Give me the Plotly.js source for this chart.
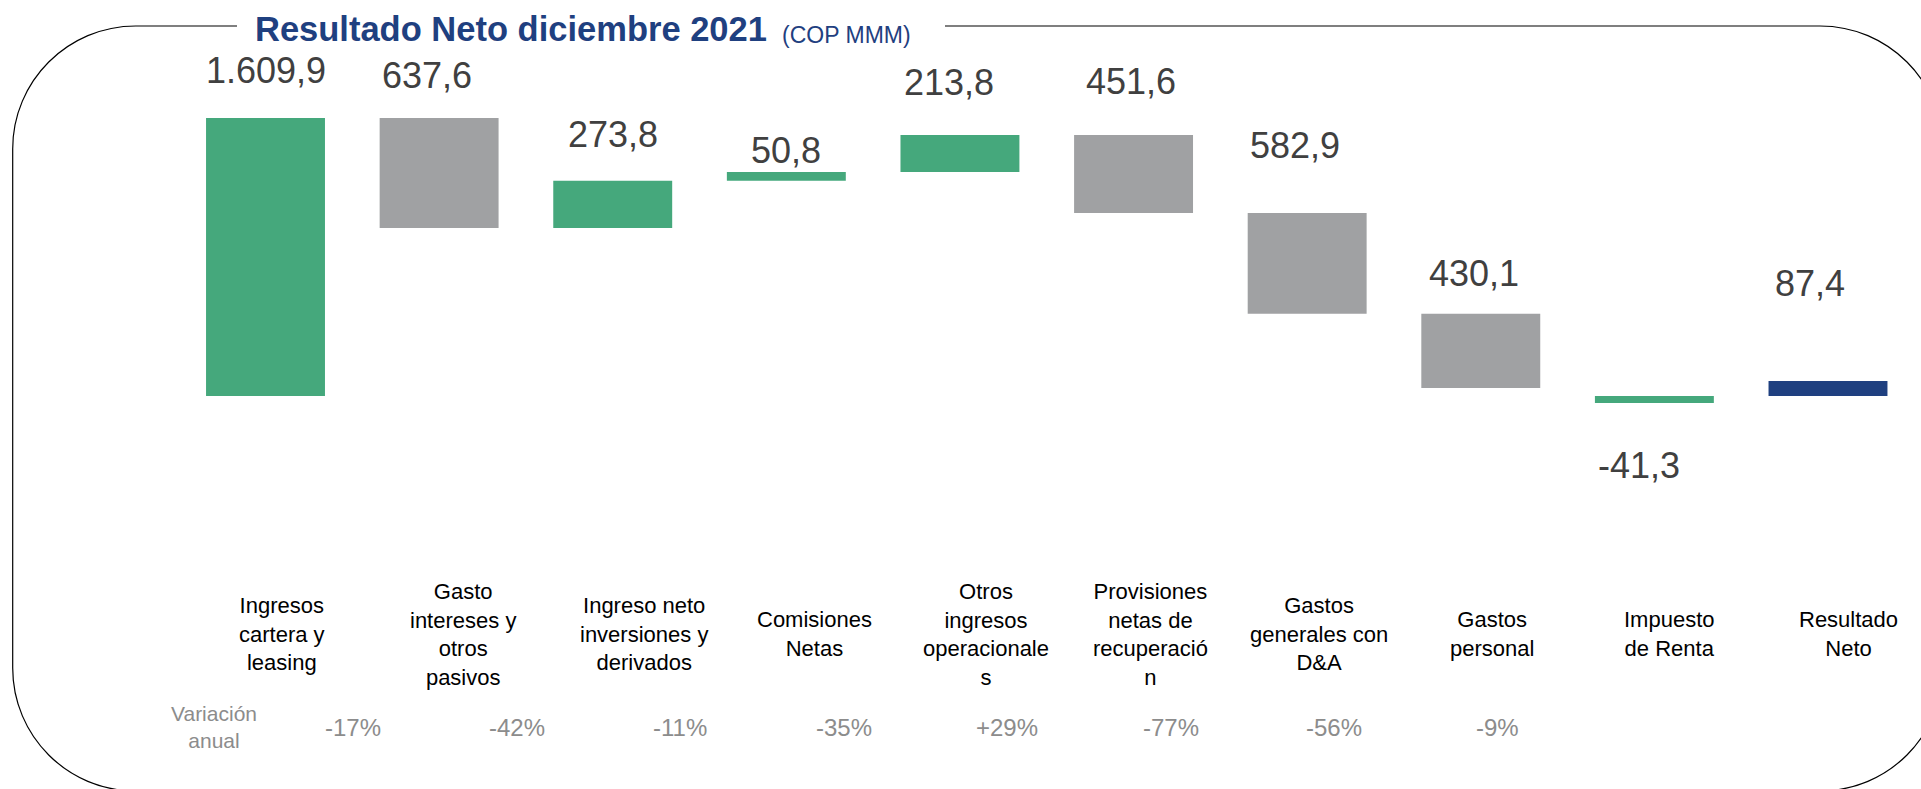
<!DOCTYPE html>
<html>
<head>
<meta charset="utf-8">
<script src="https://cdn.plot.ly/plotly-3.0.1.min.js"></script>
<style>
  html, body { margin: 0; padding: 0; background: #ffffff; }
  #chart { width: 1921px; height: 789px; }
</style>
</head>
<body>
<div id="chart"></div>
<script>
// ---------------- DATA ----------------
const categories = [
  "Ingresos<br>cartera y<br>leasing",
  "Gasto<br>intereses y<br>otros<br>pasivos",
  "Ingreso neto<br>inversiones y<br>derivados",
  "Comisiones<br>Netas",
  "Otros<br>ingresos<br>operacionale<br>s",
  "Provisiones<br>netas de<br>recuperació<br>n",
  "Gastos<br>generales con<br>D&A",
  "Gastos<br>personal",
  "Impuesto<br>de Renta",
  "Resultado<br>Neto"
];
const values = [1609.9, -637.6, 273.8, 50.8, 213.8, -451.6, -582.9, -430.1, -41.3, 87.4];
// relative = floating step, absolute = drawn from zero, total = drawn from zero
const measures = ["relative", "relative", "relative", "relative", "relative",
                  "relative", "relative", "relative", "absolute", "total"];
const kinds = ["ingreso", "gasto", "ingreso", "ingreso", "ingreso",
               "gasto", "gasto", "gasto", "ingreso", "total"];
const variacionLabel = "Variación<br>anual";
const variacion = ["-17%", "-42%", "-11%", "-35%", "+29%", "-77%", "-56%", "-9%"];
const titleText = "Resultado Neto diciembre 2021";
const unitText = "(COP MMM)";

// ---------------- STYLE / LAYOUT CONFIG ----------------
const W = 1921, H = 789;
const FONT = "Arial, 'Liberation Sans', sans-serif";
const COLORS = { ingreso: "#45A87C", gasto: "#A0A1A3", total: "#1F4080" };
const NAVY = "#1F4080";
// per-label pixel tweaks for the value labels [dx, dy] (dy = distance from bar edge)
const valueLabelTweak = [[0, 25], [-12, 20], [0, 24], [0, -1], [-11, 30],
                         [-3, 31], [-12, 45], [-7, 18], [-15, -40], [-18, 75]];
// per-label horizontal shift of category names (px)
const catShift = [16, 24, 31, 28, 26, 17, 12, 11, 15, 21];
const catCenterY = 634;

function px(x) { return x / W; }
function py(y) { return 1 - y / H; }
function fmt(v) {
  const s = Math.abs(v).toFixed(1).split(".");
  const int = s[0].replace(/\B(?=(\d{3})+(?!\d))/g, ".");
  return (v < 0 ? "-" : "") + int + "," + s[1];
}

// ---------------- BUILD BARS ----------------
const bases = [], heights = [], colors = [];
let running = 0;
values.forEach((v, i) => {
  if (measures[i] === "relative") {
    bases.push(running); heights.push(v); running += v;
  } else {
    bases.push(0); heights.push(v);
  }
  colors.push(COLORS[kinds[i]]);
});
const xIdx = categories.map((c, i) => i);

const trace = {
  type: "bar",
  x: xIdx,
  y: heights,
  base: bases,
  marker: { color: colors, line: { width: 0 } },
  hoverinfo: "skip"
};

// ---------------- ANNOTATIONS ----------------
const annotations = [];
values.forEach((v, i) => {
  const top = Math.max(bases[i], bases[i] + heights[i]);
  const bottom = Math.min(bases[i], bases[i] + heights[i]);
  const below = top <= 0;
  const txt = measures[i] === "relative" ? fmt(Math.abs(v)) : fmt(v);
  annotations.push({
    xref: "x", yref: "y", x: i, y: below ? bottom : top,
    xanchor: "center", yanchor: below ? "top" : "bottom",
    xshift: valueLabelTweak[i][0], yshift: valueLabelTweak[i][1],
    text: txt, showarrow: false,
    font: { family: FONT, size: 36, color: "#404040" }
  });
});
categories.forEach((c, i) => {
  annotations.push({
    xref: "x", yref: "paper", x: i, y: py(catCenterY),
    xanchor: "center", yanchor: "middle", xshift: catShift[i],
    text: c, showarrow: false, align: "center",
    font: { family: FONT, size: 22, color: "#000000" }
  });
});
annotations.push({
  xref: "paper", yref: "paper", x: px(214), y: py(727),
  xanchor: "center", yanchor: "middle", align: "center",
  text: variacionLabel, showarrow: false,
  font: { family: FONT, size: 21, color: "#8C8C8C" }
});
variacion.forEach((t, i) => {
  annotations.push({
    xref: "paper", yref: "paper", x: px(353 + i * 163.5), y: py(727.4),
    xanchor: "center", yanchor: "middle",
    text: t, showarrow: false,
    font: { family: FONT, size: 24, color: "#8C8C8C" }
  });
});
annotations.push({
  xref: "paper", yref: "paper", x: px(253), y: py(50.5),
  xanchor: "left", yanchor: "bottom",
  text: "<b>" + titleText + "</b>", showarrow: false,
  font: { family: FONT, size: 34.5, color: NAVY }
});
annotations.push({
  xref: "paper", yref: "paper", x: px(780), y: py(50),
  xanchor: "left", yanchor: "bottom",
  text: unitText, showarrow: false,
  font: { family: FONT, size: 23, color: NAVY }
});

// ---------------- FRAME ----------------
const L = 12.7, R = 1943, T = 26, B = 791, r = 123, k = 0.5523 * r;
function P(x, y) { return px(x).toFixed(6) + "," + py(y).toFixed(6); }
const framePath =
  "M" + P(237, T) +
  " L" + P(L + r, T) +
  " C" + P(L + r - k, T) + " " + P(L, T + r - k) + " " + P(L, T + r) +
  " L" + P(L, B - r) +
  " C" + P(L, B - r + k) + " " + P(L + r - k, B) + " " + P(L + r, B) +
  " L" + P(R - r, B) +
  " C" + P(R - r + k, B) + " " + P(R, B - r + k) + " " + P(R, B - r) +
  " L" + P(R, T + r) +
  " C" + P(R, T + r - k) + " " + P(R - r + k, T) + " " + P(R - r, T) +
  " L" + P(945, T);

const layout = {
  width: W, height: H,
  margin: { l: 0, r: 0, t: 0, b: 0, pad: 0 },
  paper_bgcolor: "#ffffff", plot_bgcolor: "rgba(0,0,0,0)",
  showlegend: false,
  bargap: 0.315,
  xaxis: { domain: [px(178.7), px(1914.8)], range: [-0.5, 9.5], visible: false, fixedrange: true },
  yaxis: { domain: [0, 1], range: [-2276, 2293], visible: false, fixedrange: true },
  annotations: annotations,
  shapes: [{
    type: "path", xref: "paper", yref: "paper", path: framePath,
    line: { color: "#000000", width: 1.2 }, fillcolor: "rgba(0,0,0,0)"
  }]
};

Plotly.newPlot("chart", [trace], layout, { displayModeBar: false, staticPlot: true });
</script>
</body>
</html>
